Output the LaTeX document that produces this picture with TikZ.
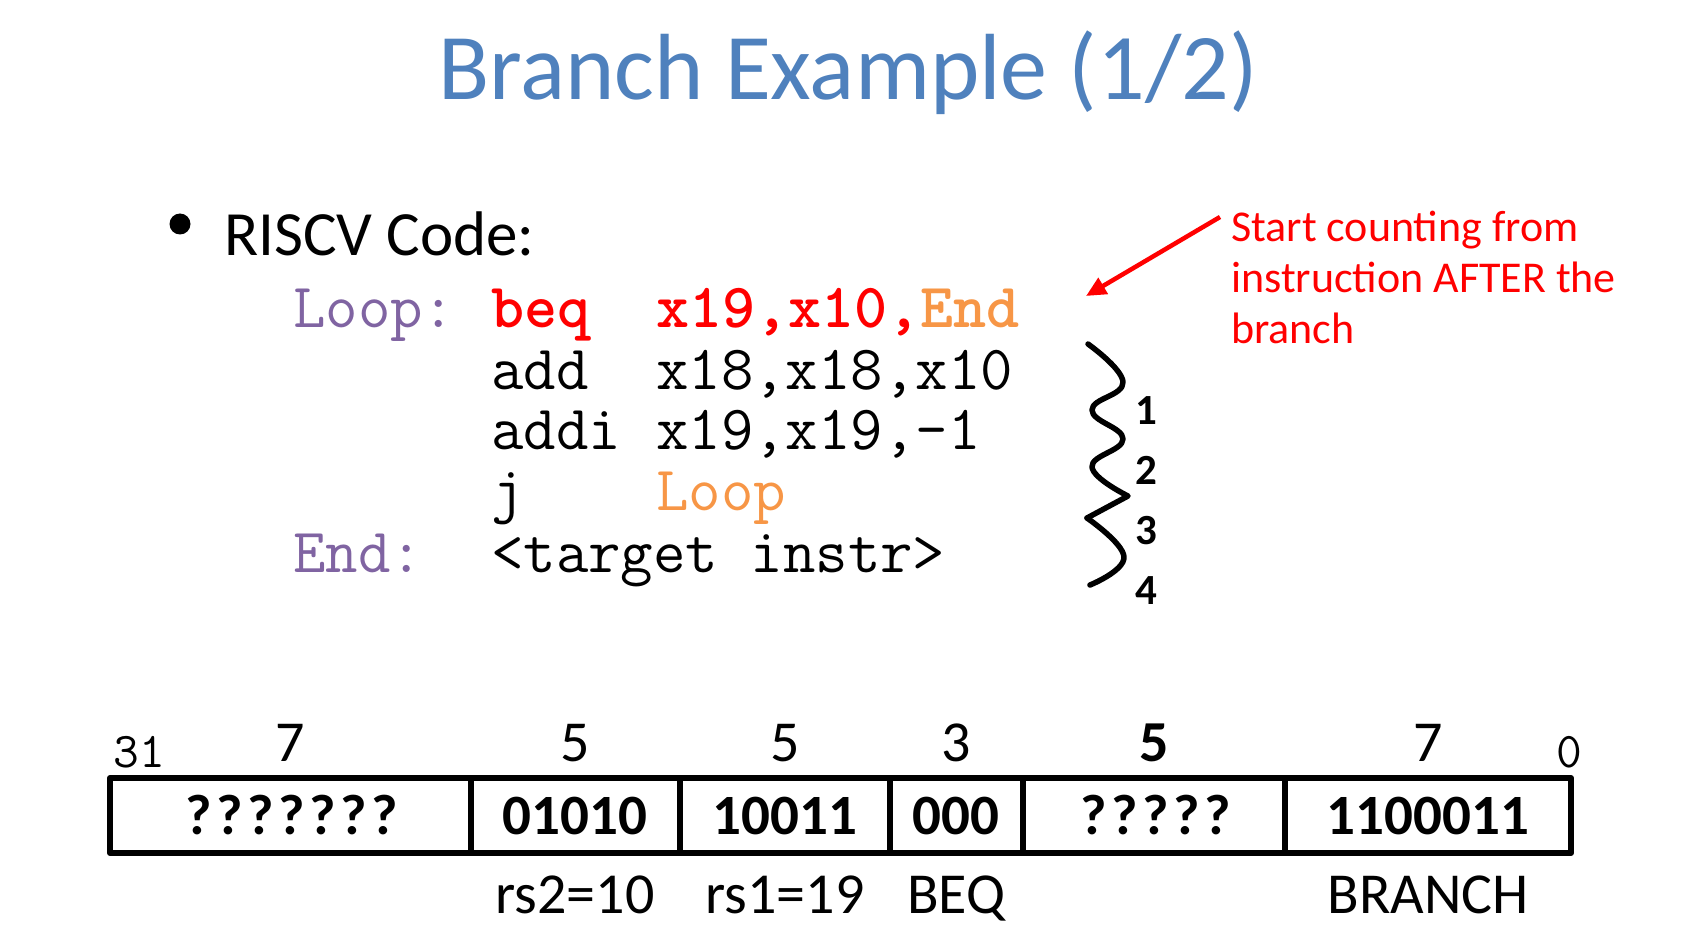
\documentclass[tikz,border=0pt]{standalone}
\usepackage{fontspec}
\setmainfont{Carlito}
\usetikzlibrary{arrows.meta}
\definecolor{titleblue}{HTML}{4F81BD}
\definecolor{lblpurple}{HTML}{8064A2}
\definecolor{tgtorange}{HTML}{F79646}
\definecolor{hotred}{HTML}{FF0000}

\begin{document}
\begin{tikzpicture}[x=1pt,y=-1pt,
  code/.style={anchor=base west, inner sep=0pt, font=\fontsize{63}{66}\selectfont\ttfamily},
  width/.style={anchor=base, inner sep=0pt, font=\fontsize{58}{60}\selectfont},
  bitno/.style={anchor=base, inner sep=0pt, font=\fontsize{50}{52}\selectfont\ttfamily},
  field/.style={anchor=base, inner sep=0pt, font=\fontsize{57}{60}\selectfont\bfseries},
  qfield/.style={field, font=\fontsize{57}{60}\selectfont\bfseries\addfontfeature{LetterSpace=8}},
  fname/.style={anchor=base, inner sep=0pt, font=\fontsize{58}{60}\selectfont},
  count/.style={anchor=base, inner sep=0pt, font=\fontsize{43}{45}\selectfont\bfseries},
  frame/.style={line width=6pt, line join=round},
]
\useasboundingbox (0,0) rectangle (1698,952);

% title
\node[anchor=base, inner sep=0pt, text=titleblue, font=\fontsize{94}{100}\selectfont]
  (title) at (848,100) {Branch Example (1/2)};

% bullet line
\fill (180,224) circle[radius=10.5pt];
\node[anchor=base west, inner sep=0pt, font=\fontsize{63}{66}\selectfont]
  (bullet) at (224,256) {RISCV Code:};

% assembly listing: label / mnemonic / operands columns
\node[code, text=lblpurple] (l1a) at (293,327) {Loop:};
\node[code, text=hotred]    (l1b) at (491,327) {\bfseries beq};
\node[code, text=hotred]    (l1c) at (656,327) {\bfseries x19,x10,\textcolor{tgtorange}{End}};
\node[code] (l2b) at (491,389) {add};
\node[code] (l2c) at (656,389) {x18,x18,x10};
\node[code] (l3b) at (491,449) {addi};
\node[code] (l3c) at (656,449) {x19,x19,-1};
\node[code] (l4b) at (491,510) {j};
\node[code, text=tgtorange] (l4c) at (656,510) {Loop};
\node[code, text=lblpurple] (l5a) at (293,572) {End:};
\node[code] (l5b) at (491,572) {<target instr>};

% wavy counting line
\draw[line width=5.5pt, line cap=round, line join=round]
  plot[smooth, tension=0.75] coordinates {(1088,344) (1123,382) (1092,410) (1123,439) (1092,467) (1128,496)}
  -- (1087,518);
\draw[line width=5.5pt, line cap=round, line join=round]
  plot[smooth, tension=0.75] coordinates {(1087,518) (1124,557) (1090,585)};
\node[count] (c1) at (1146,424) {1};
\node[count] (c2) at (1146,484) {2};
\node[count] (c3) at (1146,544) {3};
\node[count] (c4) at (1146,604) {4};

% annotation
\node[anchor=north west, inner sep=0pt, text=hotred, align=left,
  font=\fontsize{44}{51}\selectfont] (note) at (1231,211)
  {Start counting from\\instruction AFTER the\\branch};
\coordinate (arrowtail) at (1220,217);
\coordinate (arrowtip) at (1086,296);
\draw[hotred, line width=4.5pt, -{Triangle[length=20pt,width=18pt]}] (arrowtail) -- (arrowtip);

% instruction format box
\draw[frame] (110,778) rectangle (1571,853);
\foreach \x in {471,680,890,1023,1285}
  \draw[line width=6pt] (\x,778) -- (\x,853);

\node[bitno] (hi) at (139,767) {31};
\node[bitno] (lo) at (1569,767) {0};

\node[width] (w1) at (290,761) {7};
\node[width] (w2) at (575,761) {5};
\node[width] (w3) at (785,761) {5};
\node[width] (w4) at (956,761) {3};
\node[width] (w5) at (1154,761) {\bfseries 5};
\node[width] (w6) at (1428,761) {7};

\node[qfield] (f1) at (292,834) {???????};
\node[field] (f2) at (575,834) {01010};
\node[field] (f3) at (785,834) {10011};
\node[field] (f4) at (956,834) {000};
\node[qfield] (f5) at (1156,834) {?????};
\node[field] (f6) at (1428,834) {1100011};

\node[fname] (n2) at (575,913) {rs2=10};
\node[fname] (n3) at (785,913) {rs1=19};
\node[fname] (n4) at (956,913) {BEQ};
\node[fname] (n6) at (1428,913) {BRANCH};
\end{tikzpicture}
\end{document}
